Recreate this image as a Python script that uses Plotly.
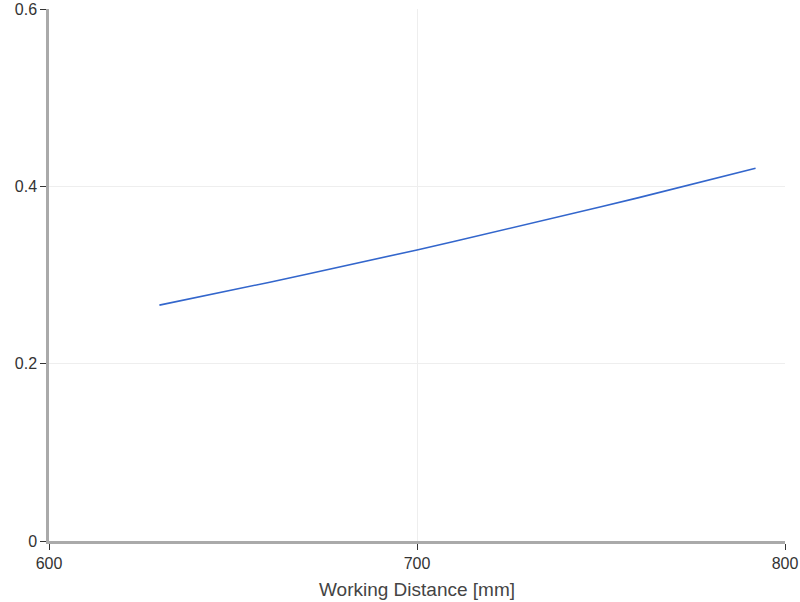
import plotly.graph_objects as go

distance_mm = [630, 640, 650, 660, 670, 680, 690, 700, 710, 720, 730, 740, 750, 760, 770, 780, 790, 792]
value = [0.2660, 0.2744, 0.2831, 0.2919, 0.3008, 0.3098, 0.3190, 0.3283, 0.3377,
         0.3473, 0.3570, 0.3669, 0.3769, 0.3870, 0.3972, 0.4076, 0.4181, 0.4203]

x_ticks = [600, 700, 800]
y_ticks = [0, 0.2, 0.4, 0.6]
y_tick_text = ["0", "0.2", "0.4", "0.6"]

fig = go.Figure()
fig.add_trace(go.Scatter(x=distance_mm, y=value, mode="lines",
                         line=dict(color="#3366cc", width=1.6),
                         showlegend=False))

fig.update_layout(
    width=800, height=602,
    margin=dict(l=49, r=15, t=9, b=61, autoexpand=False),
    paper_bgcolor="white", plot_bgcolor="white",
    font=dict(family="Liberation Sans, Arial, sans-serif", size=16, color="#333"),
)
fig.update_xaxes(range=[600, 800], tickvals=x_ticks, ticks="outside", ticklen=6, tickcolor="#333",
                 showline=True, linecolor="#aaa", linewidth=2.5, showgrid=True, gridcolor="#eeeeee",
                 zeroline=False, automargin=False,
                 title=dict(text="Working Distance [mm]", font=dict(color="#444"), standoff=12))
fig.update_yaxes(range=[0, 0.6], tickvals=y_ticks, ticktext=y_tick_text, ticks="outside", ticklen=6,
                 tickcolor="#333", showline=True, linecolor="#aaa", linewidth=2.5, showgrid=True,
                 gridcolor="#eeeeee", zeroline=False, automargin=False)

fig.write_html("out.html", config={"displayModeBar": False},
               post_script="document.body.style.margin='0';document.body.style.overflow='hidden';")
